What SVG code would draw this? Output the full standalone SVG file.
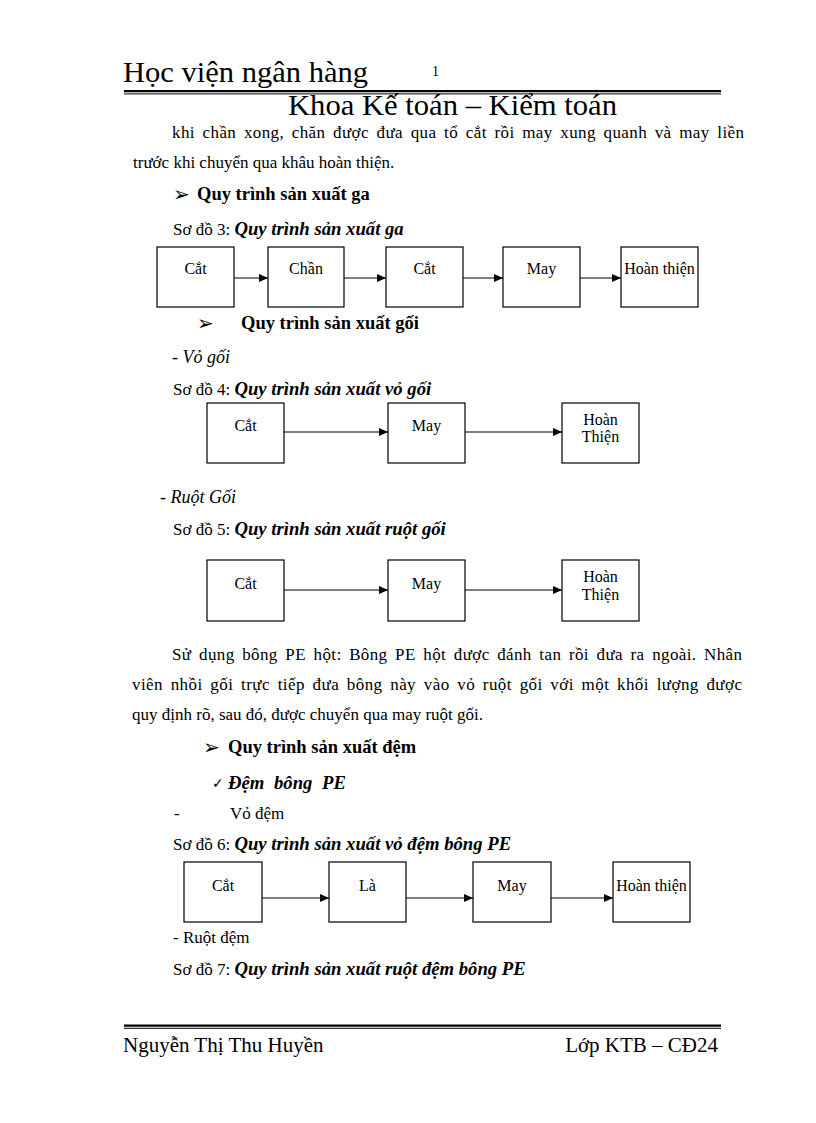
<svg xmlns="http://www.w3.org/2000/svg" width="816" height="1123" viewBox="0 0 816 1123">
<style>
text{font-family:"Liberation Serif","Times New Roman",serif;fill:#000}
.t{font-size:17px}
.b{font-weight:bold;font-size:18.5px}
.bi{font-weight:bold;font-style:italic;font-size:18.7px}
.i{font-style:italic;font-size:18px}
.lbl{font-size:16px;text-anchor:middle}
.sym{font-family:"DejaVu Sans",sans-serif;font-size:20px;font-weight:bold}
.chk{font-family:"DejaVu Sans",sans-serif;font-size:14px}
.box{fill:#fff;stroke:#000;stroke-width:1.2}
.con{stroke:#000;stroke-width:1.2;fill:none;marker-end:url(#ah)}
</style>
<defs>
<marker id="ah" markerUnits="userSpaceOnUse" markerWidth="9" markerHeight="8" refX="9" refY="4" orient="auto">
<path d="M0,0 L9,4 L0,8 z" fill="#000"/>
</marker>
</defs>
<rect width="816" height="1123" fill="#fff"/>

<g id="header">
<text x="123" y="82" font-size="30" textLength="245" lengthAdjust="spacingAndGlyphs">Học viện ngân hàng</text>
<text x="432" y="76" font-size="14">1</text>
<line x1="124" y1="91.2" x2="721" y2="91.2" stroke="#000" stroke-width="2.3"/>
<line x1="124" y1="93.9" x2="721" y2="93.9" stroke="#000" stroke-width="1"/>
<text x="452.5" y="115" font-size="30" text-anchor="middle" textLength="329" lengthAdjust="spacingAndGlyphs">Khoa Kế toán – Kiểm toán</text>
</g>

<g id="body-top">
<text class="t" x="172" y="138" word-spacing="3" textLength="572" lengthAdjust="spacing">khi chần xong, chăn được đưa qua tổ cắt rồi may xung quanh và may liền</text>
<text class="t" x="133" y="168">trước khi chuyển qua khâu hoàn thiện.</text>
<text class="sym" x="173" y="201">➢</text>
<text class="b" x="197" y="200">Quy trình sản xuất ga</text>
<text class="t" x="173" y="235">Sơ đồ 3: <tspan class="bi">Quy trình sản xuất ga</tspan></text>
</g>

<g id="d3-cat1"><rect class="box" x="157" y="247" width="77" height="60"/><text class="lbl" x="195.5" y="274">Cắt</text></g>
<g id="d3-chan"><rect class="box" x="268" y="247" width="76" height="60"/><text class="lbl" x="306" y="274">Chần</text></g>
<g id="d3-cat2"><rect class="box" x="386" y="247" width="77" height="60"/><text class="lbl" x="424.5" y="274">Cắt</text></g>
<g id="d3-may"><rect class="box" x="503" y="247" width="77" height="60"/><text class="lbl" x="541.5" y="274">May</text></g>
<g id="d3-hoanthien"><rect class="box" x="621" y="247" width="77" height="60"/><text class="lbl" x="659.5" y="274">Hoàn thiện</text></g>

<g id="body-goi">
<text class="sym" x="197" y="330">➢</text>
<text class="b" x="241" y="329">Quy trình sản xuất gối</text>
<text class="i" x="172" y="363">- Vỏ gối</text>
<text class="t" x="173" y="395">Sơ đồ 4: <tspan class="bi">Quy trình sản xuất vỏ gối</tspan></text>
</g>

<g id="d4-cat"><rect class="box" x="207" y="403" width="77" height="60"/><text class="lbl" x="245.5" y="431">Cắt</text></g>
<g id="d4-may"><rect class="box" x="388" y="403" width="77" height="60"/><text class="lbl" x="426.5" y="431">May</text></g>
<g id="d4-hoanthien"><rect class="box" x="562" y="403" width="77" height="60"/><text class="lbl" x="600.5" y="425">Hoàn</text><text class="lbl" x="600.5" y="442">Thiện</text></g>

<g id="body-ruot">
<text class="i" x="160" y="503">- Ruột Gối</text>
<text class="t" x="173" y="535">Sơ đồ 5: <tspan class="bi">Quy trình sản xuất ruột gối</tspan></text>
</g>

<g id="d5-cat"><rect class="box" x="207" y="560" width="77" height="61"/><text class="lbl" x="245.5" y="589">Cắt</text></g>
<g id="d5-may"><rect class="box" x="388" y="560" width="77" height="61"/><text class="lbl" x="426.5" y="589">May</text></g>
<g id="d5-hoanthien"><rect class="box" x="562" y="560" width="77" height="61"/><text class="lbl" x="600.5" y="582">Hoàn</text><text class="lbl" x="600.5" y="600">Thiện</text></g>

<g id="body-para">
<text class="t" x="172" y="660" word-spacing="3" textLength="570" lengthAdjust="spacing">Sử dụng bông PE hột: Bông PE hột được đánh tan rồi đưa ra ngoài.  Nhân</text>
<text class="t" x="132" y="690" word-spacing="3" textLength="610" lengthAdjust="spacing">viên nhồi gối trực tiếp  đưa bông này vào vỏ ruột gối với một khối lượng  được</text>
<text class="t" x="132" y="720">quy định rõ, sau đó, được chuyển qua may ruột gối.</text>
<text class="sym" x="203" y="754">➢</text>
<text class="b" x="228" y="753">Quy trình sản xuất đệm</text>
<text class="chk" x="212" y="788">✓</text>
<text class="bi" x="228" y="789" font-size="19.5" word-spacing="5">Đệm bông PE</text>
<text class="t" x="174" y="819">-</text>
<text class="t" x="230" y="819" font-size="18.5">Vỏ đệm</text>
<text class="t" x="173" y="850">Sơ đồ 6: <tspan class="bi">Quy trình sản xuất vỏ đệm bông PE</tspan></text>
</g>

<g id="d6-cat"><rect class="box" x="184" y="862" width="78" height="60"/><text class="lbl" x="223" y="891">Cắt</text></g>
<g id="d6-la"><rect class="box" x="329" y="862" width="77" height="60"/><text class="lbl" x="367.5" y="891">Là</text></g>
<g id="d6-may"><rect class="box" x="473" y="862" width="78" height="60"/><text class="lbl" x="512" y="891">May</text></g>
<g id="d6-hoanthien"><rect class="box" x="613" y="862" width="77" height="60"/><text class="lbl" x="651.5" y="891">Hoàn thiện</text></g>

<g id="body-bottom">
<text class="t" x="173" y="943" font-size="18.5">- Ruột đệm</text>
<text class="t" x="173" y="975">Sơ đồ 7: <tspan class="bi">Quy trình sản xuất ruột đệm bông PE</tspan></text>
</g>

<g id="connectors">
<line class="con" x1="234" y1="278" x2="268" y2="278"/>
<line class="con" x1="344" y1="278" x2="386" y2="278"/>
<line class="con" x1="463" y1="278" x2="503" y2="278"/>
<line class="con" x1="580" y1="278" x2="621" y2="278"/>
<line class="con" x1="284" y1="432" x2="388" y2="432"/>
<line class="con" x1="465" y1="432" x2="562" y2="432"/>
<line class="con" x1="284" y1="590" x2="388" y2="590"/>
<line class="con" x1="465" y1="590" x2="562" y2="590"/>
<line class="con" x1="262" y1="898" x2="329" y2="898"/>
<line class="con" x1="406" y1="898" x2="473" y2="898"/>
<line class="con" x1="551" y1="898" x2="613" y2="898"/>
</g>

<g id="footer">
<line x1="124" y1="1025.6" x2="721" y2="1025.6" stroke="#000" stroke-width="2.3"/>
<line x1="124" y1="1028.3" x2="721" y2="1028.3" stroke="#000" stroke-width="1"/>
<text x="123" y="1052" font-size="21">Nguyễn Thị Thu Huyền</text>
<text x="718" y="1052" font-size="21" text-anchor="end">Lớp KTB – CĐ24</text>
</g>
</svg>
